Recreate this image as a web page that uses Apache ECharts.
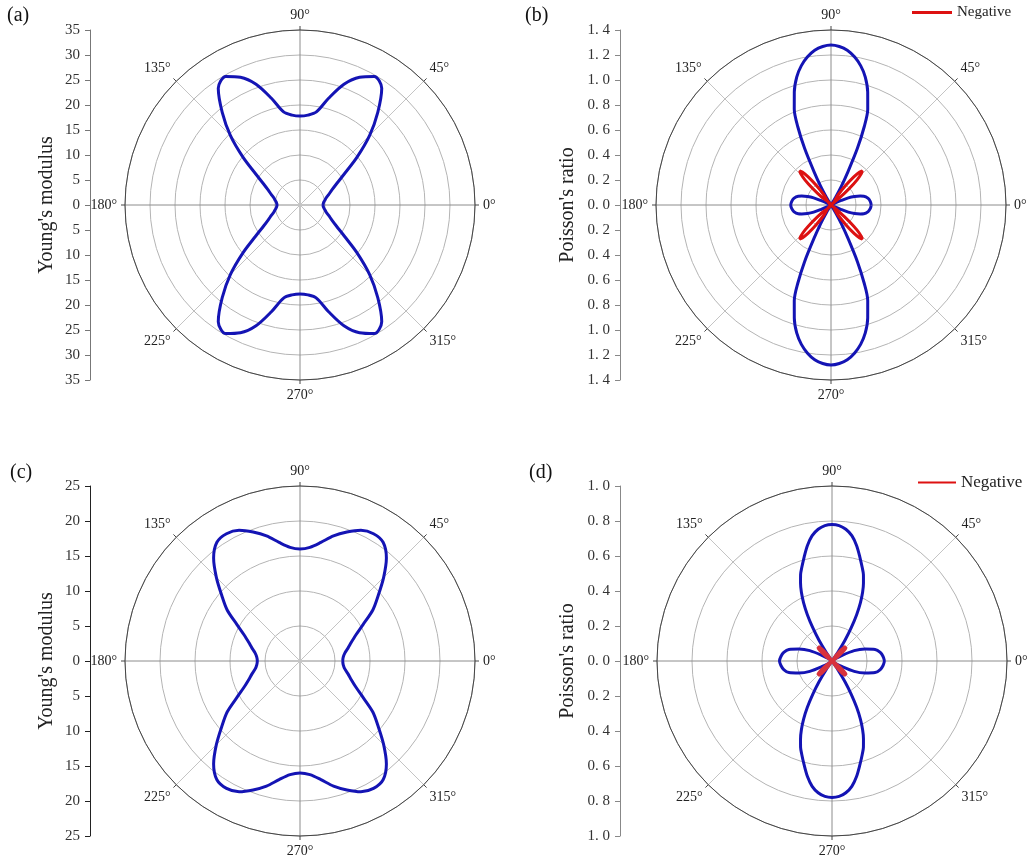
<!DOCTYPE html>
<html>
<head>
<meta charset="utf-8">
<script src="https://cdn.jsdelivr.net/npm/echarts@6/dist/echarts.min.js"></script>
<style>
  html, body { margin: 0; padding: 0; background: #fff; }
  #main { width: 1027px; height: 863px; }
</style>
</head>
<body>
<div id="main"></div>
<script>
var myChart = echarts.init(document.getElementById('main'));

// angles (deg) in the first quadrant; the curves are symmetric about both axes
var angYoung = [0, 5, 10, 15, 20, 25, 30, 35, 40, 45, 50, 55, 60, 65, 70, 75, 80, 85, 90];
var youngA = [4.6, 4.7, 5.0, 5.4, 6.1, 7.0, 8.4, 10.8, 14.9, 19.7, 24.2, 28.5, 29.7, 28.2, 25.7, 22.1, 18.9, 18.05, 17.8];
var youngC = [6.1, 6.2, 6.5, 7.1, 7.8, 8.8, 10.4, 12.7, 14.6, 16.9, 19.2, 20.7, 21.0, 20.6, 19.6, 18.5, 17.2, 16.3, 16.0];

// Poisson's ratio (b): positive part (blue) and negative part (red, magnitude)
var angPosB = [0, 5, 10, 15, 17, 20, 22.5, 24, 26, 28, 57, 59, 61, 63, 65, 67, 69, 72, 75, 78, 81, 84, 87, 90];
var posB = [0.322, 0.316, 0.302, 0.272, 0.245, 0.2, 0.15, 0.09, 0.03, 0, 0, 0.07, 0.17, 0.3, 0.5, 0.68, 0.82, 0.95, 1.06, 1.14, 1.2, 1.245, 1.27, 1.28];
var angNegB = [38, 40, 42, 44, 46, 47.5, 49, 51, 53, 55, 57];
var negB = [0, 0.1, 0.2, 0.29, 0.35, 0.37, 0.35, 0.29, 0.2, 0.1, 0];

// Poisson's ratio (d)
var angPosD = [0, 5, 10, 15, 20, 25, 30, 34, 38, 54, 56, 58, 60, 62, 64, 66, 68, 70, 72, 75, 78, 81, 84, 87, 90];
var posD = [0.30, 0.293, 0.28, 0.255, 0.2, 0.14, 0.06, 0.025, 0, 0, 0.06, 0.14, 0.22, 0.3, 0.37, 0.43, 0.48, 0.525, 0.56, 0.615, 0.675, 0.725, 0.757, 0.775, 0.78];
var angNegD = [38, 40, 42, 44, 45.5, 47, 49, 51, 53];
var negD = [0, 0.04, 0.08, 0.105, 0.11, 0.105, 0.08, 0.04, 0];

var FONT = 'Liberation Serif';
var BLUE = '#1414b4';
var RED = '#dd1111';

// reflect a first-quadrant curve into the full circle, [r, angle] pairs
function mirror(angles, vals) {
    var pts = [];
    var n = angles.length;
    var i;
    for (i = 0; i < n; i++) pts.push([vals[i], angles[i]]);
    for (i = n - 1; i >= 0; i--) {
        if (angles[i] === 90) continue;
        pts.push([vals[i], 180 - angles[i]]);
    }
    for (i = 0; i < n; i++) {
        if (angles[i] === 0) continue;
        pts.push([vals[i], 180 + angles[i]]);
    }
    for (i = n - 1; i >= 0; i--) {
        if (angles[i] === 90) continue;
        pts.push([vals[i], 360 - angles[i]]);
    }
    if (angles[0] === 0) pts.push([vals[0], 360]);
    return pts;
}

var centers = [[300, 205], [831, 205], [300, 661], [832, 661]];
var radMax = [35, 1.4, 25, 1.0];
var radStep = [5, 0.2, 5, 0.2];
var axisNames = ["Young's modulus", "Poisson's ratio", "Young's modulus", "Poisson's ratio"];
var axisColors = ['#777', '#888', '#222', '#888'];

var polar = [], angleAxis = [], radiusAxis = [], grid = [], xAxis = [], yAxis = [];
centers.forEach(function (c, k) {
    polar.push({ center: c, radius: 175 });
    angleAxis.push({
        polarIndex: k,
        type: 'value',
        min: 0,
        max: 360,
        interval: 45,
        startAngle: 0,
        clockwise: false,
        axisLine: { lineStyle: { color: '#444', width: 1 } },
        axisTick: { show: true, length: 4, lineStyle: { color: '#444' } },
        axisLabel: {
            margin: 8,
            color: '#222',
            fontFamily: FONT,
            fontSize: 14,
            formatter: function (v) { return v === 360 ? '' : v + '°'; }
        },
        splitLine: { show: true, lineStyle: { color: ['#8c8c8c', '#c4c4c4'], width: 1 } }
    });
    radiusAxis.push({
        polarIndex: k,
        type: 'value',
        min: 0,
        max: radMax[k],
        interval: radStep[k],
        axisLine: { show: false },
        axisTick: { show: false },
        axisLabel: { show: false },
        splitLine: { show: true, lineStyle: { color: '#b4b4b4', width: 1 } }
    });
    var left = k % 2 === 0 ? 90 : 620;
    grid.push({ left: left, top: c[1] - 175, width: 10, height: 350 });
    xAxis.push({ gridIndex: k, type: 'value', show: false });
    yAxis.push({
        gridIndex: k,
        type: 'value',
        min: -radMax[k],
        max: radMax[k],
        interval: radStep[k],
        name: axisNames[k],
        nameLocation: 'middle',
        nameGap: k % 2 === 0 ? 33 : 42,
        nameTextStyle: { fontFamily: FONT, fontSize: 20, color: '#222' },
        axisLine: { show: true, lineStyle: { color: axisColors[k], width: 1 } },
        axisTick: { show: true, length: 5, lineStyle: { color: axisColors[k] } },
        axisLabel: {
            margin: 10,
            color: '#333',
            fontFamily: FONT,
            fontSize: 15,
            formatter: function (v) {
                var a = Math.abs(v);
                return radStep[k] < 1 ? a.toFixed(1).replace('.', '. ') : String(Math.round(a));
            }
        },
        splitLine: { show: false }
    });
});

function curve(name, k, data, color, width) {
    return {
        name: name,
        type: 'line',
        coordinateSystem: 'polar',
        polarIndex: k,
        data: data,
        showSymbol: false,
        smooth: 0.3,
        lineStyle: { color: color, width: width },
        itemStyle: { color: color },
        animation: false,
        z: name === 'Negative' ? 3 : 2
    };
}

var titleStyle = { fontFamily: FONT, fontSize: 20, fontWeight: 'normal', color: '#111' };

option = {
    animation: false,
    title: [
        { text: '(a)', left: 7, top: 6, padding: 0, textStyle: titleStyle },
        { text: '(b)', left: 525, top: 6, padding: 0, textStyle: titleStyle },
        { text: '(c)', left: 10, top: 463, padding: 0, textStyle: titleStyle },
        { text: '(d)', left: 529, top: 463, padding: 0, textStyle: titleStyle }
    ],
    legend: [
        {
            left: 912, top: 5, padding: 0, icon: 'rect', itemWidth: 40, itemHeight: 3, itemGap: 4,
            textStyle: { fontFamily: FONT, fontSize: 15, color: '#222' },
            data: [{ name: 'Negative', itemStyle: { color: RED } }]
        },
        {
            left: 918, top: 474, padding: 0, icon: 'rect', itemWidth: 38, itemHeight: 2, itemGap: 4,
            textStyle: { fontFamily: FONT, fontSize: 17, color: '#222' },
            data: [{ name: 'Negative', itemStyle: { color: RED } }]
        }
    ],
    polar: polar,
    angleAxis: angleAxis,
    radiusAxis: radiusAxis,
    grid: grid,
    xAxis: xAxis,
    yAxis: yAxis,
    series: [
        curve('Young A', 0, mirror(angYoung, youngA), BLUE, 3),
        curve('Positive B', 1, mirror(angPosB, posB), BLUE, 3),
        curve('Negative', 1, mirror(angNegB, negB), RED, 3),
        curve('Young C', 2, mirror(angYoung, youngC), BLUE, 3),
        curve('Positive D', 3, mirror(angPosD, posD), BLUE, 3),
        curve('Negative', 3, mirror(angNegD, negD), '#d8323c', 4)
    ]
};

myChart.setOption(option);
</script>
</body>
</html>
